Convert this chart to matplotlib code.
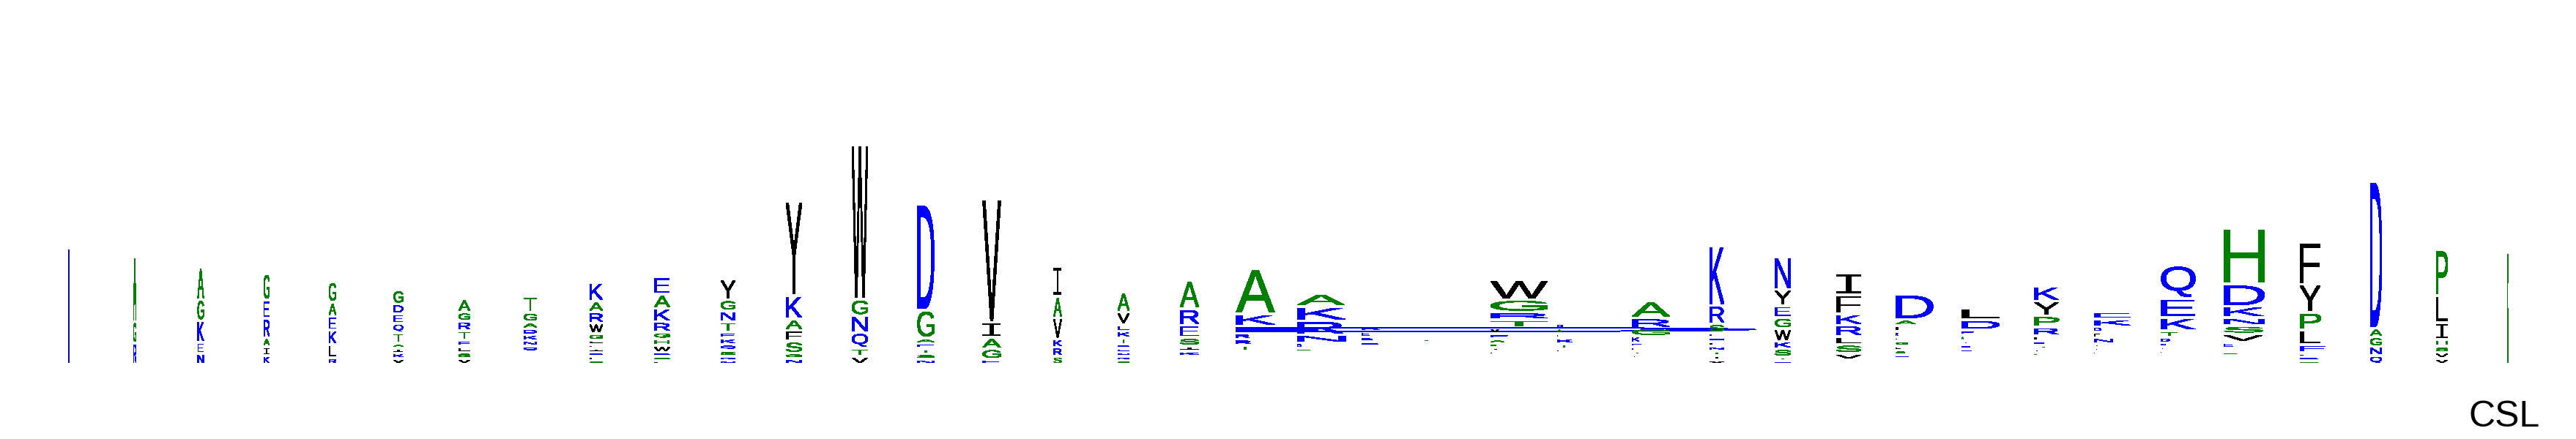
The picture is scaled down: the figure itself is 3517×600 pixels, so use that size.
import matplotlib
matplotlib.use("Agg")
import matplotlib.pyplot as plt
from matplotlib.font_manager import FontProperties
from matplotlib.patches import PathPatch
from matplotlib.textpath import TextPath
from matplotlib.transforms import Affine2D

# one entry per alignment column, letters from top of the stack to the bottom
col_letters = [
    "N", "AGR", "AGKEN", "GERAIK", "GAEKLR", "GDEQTAIKV", "AGRTELSV", "TGADKNQ",
    "KARWGLEIDFS", "EAKRGHWDSL", "YGNTEKQSRN", "YKAFSGN", "WGNQTV", "DGAETSN",
    "VIAGE", "IAVKRS", "AVEKTDENRS", "ARESIK", "AKDRRT", "AKRNDG", "KEDR", "G",
    "WGRTVEASIL", "DAEKTL", "ARGKEDTI", "KRSEDLNTIV", "NYEGWKSTD", "IFKRLSV",
    "DAFKEGLSN", "LDEATDN", "KYPRLDTIG", "EKDFNTIL", "QEKTDNIL", "HDKNSVEIG",
    "FYPLEIDG", "DAGNQ", "PLIHSVV", "G",
]
col_heights = [
    [155], [84, 25, 25], [40, 25, 25, 11, 11], [32, 21, 22, 8, 8, 8],
    [24, 15, 15, 15, 14, 5], [15, 9, 9, 9, 10, 2, 3, 3, 4], [14, 8, 9, 9, 4, 4, 4, 4],
    [18, 9, 5, 4, 4, 3, 4],
    [21, 11, 11, 10, 5, 1.3, 1.3, 1.3, 1.3, 1.3, 1.3],
    [20, 15, 14, 10, 5, 5, 5, 1.3, 1.3, 1.3],
    [24, 11, 11, 10, 4, 4, 4, 4, 1.3, 1.3],
    [124, 28, 11, 11, 12, 3, 4], [207, 18, 19, 17, 7, 7], [140, 34, 3, 3, 3, 3, 3],
    [164, 17, 11, 10, 3], [37, 25, 25, 7, 8, 7],
    [23, 13, 5, 4.5, 5, 1.3, 1.3, 1.3, 1.3, 1.3], [35, 18, 13, 7, 3, 3],
    [58, 12, 6, 4, 4, 4], [14, 15, 15, 7, 3, 1], [3, 4, 2, 2], [1],
    [23, 13, 6, 7, 4, 3, 2, 1, 1, 1], [2.5, 3, 2.5, 3, 3, 1],
    [19, 9.5, 7, 4.5, 2, 1, 1, 1], [77, 21, 8, 2, 2, 2, 2, 2, 2, 2],
    [40, 18, 12, 11, 13, 6, 7, 1, 1], [26, 22, 11, 11, 7, 8, 5],
    [30, 4, 4, 4, 1, 2, 2, 2, 1], [12, 10, 3, 3, 1.5, 1.5, 1],
    [16, 16, 11, 8, 3, 1, 1, 1, 1], [6, 6, 3.5, 3.5, 3.5, 1, 1, 1],
    [41, 22, 14, 5, 3, 1, 1, 1], [72, 26, 11, 7, 7, 7, 4, 1, 1],
    [54, 34, 20, 16, 7, 1, 1, 1], [196, 8, 9, 8, 8], [58, 33, 19, 5, 4, 4, 4], [149],
]
# a single number means every letter of the column has that width
col_widths = [
    1, 4, 8.5, 8, 10, 13, 16, 18, 18, 21, 20, 22, 22, 23, 25, 11, 16, 26,
    [53, 53, 710, 18, 20, 25], [65, 66, 63, 67, 6, 18], [25, 11, 15, 23], 5,
    [78, 78, 78, 78, 12, 25, 19, 8, 14, 8], [8, 6, 5, 21, 19, 10],
    [52, 52, 52, 10, 13, 2, 15, 7], 20, 22, 34,
    [51, 27, 17, 3, 8, 16, 7, 12, 17], [52, 52, 18, 3, 12, 12, 14],
    [33, 33, 34, 33, 16, 13, 25, 7, 3], [50, 50, 10, 8, 26, 8, 7, 5],
    [47, 47, 47, 23, 12, 6, 4, 3], [56, 56, 55, 56, 54, 53, 13, 2, 18],
    [28, 28, 29, 28, 36, 5, 25, 25], 16, 16, 1,
]
col_span = [
    1, 4, 8.5, 8, 10, 13, 16, 18, 18, 21, 20, 22, 22, 23, 25, 11, 16, 26,
    53, 66, 70, 78, 78, 76, 52, 20, 22, 34, 51, 52, 33, 50, 47, 56, 28, 16, 16, 1,
]
col_base = [
    0, 0, 0, 0, 0, 0, 0, 17, 0, 0, 0, 0, 0, 0, 0, 0, 0, 11,
    18, 17, 25, 30, 13, 16, 8, 0, 0, 6, 8, 16, 11, 13, 14, 12, 0, 0, 0, 0,
]
x_label = "CSL"

colors = {}
for c in "AGHPST":
    colors[c] = "#008000"
for c in "DEKNQR":
    colors[c] = "#0000ff"
for c in "FILMVWY":
    colors[c] = "#000000"

FIRST_X = 94
STEP = 90
GAP = 4.2

prop = FontProperties(family="Liberation Sans")
# Liberation's I is a plain bar, the logo's has serifs
prop_i = FontProperties(family="DejaVu Sans Mono")


def draw_letter(ax, letter, left, bottom, w, h):
    # stretch the glyph outline so it fills the box exactly
    tp = TextPath((0, 0), letter, size=1, prop=prop_i if letter == "I" else prop)
    bb = tp.get_extents()
    tr = (Affine2D().translate(-bb.x0, -bb.y0)
          .scale(w / bb.width, h / bb.height)
          .translate(left, bottom))
    ax.add_patch(PathPatch(tr.transform_path(tp), fc=colors[letter], ec="none",
                           lw=0, antialiased=False))


fig = plt.figure(figsize=(35.17, 6), dpi=100)
ax = fig.add_axes([0, 0, 1, 1])
ax.set_xlim(0, 3517)
ax.set_ylim(-104, 496)
ax.axis("off")

for i, letters in enumerate(col_letters):
    left = FIRST_X + STEP * i - col_span[i] / 2
    y = col_base[i]
    widths = col_widths[i]
    # go from the bottom of the stack upwards
    for j in range(len(letters) - 1, -1, -1):
        w = widths[j] if isinstance(widths, list) else widths
        draw_letter(ax, letters[j], left, y, w, col_heights[i][j])
        y += col_heights[i][j] + GAP

ax.text(3371, -87, x_label, fontsize=36, family="Liberation Sans", va="baseline", ha="left")

fig.savefig("out.png", dpi=100)
